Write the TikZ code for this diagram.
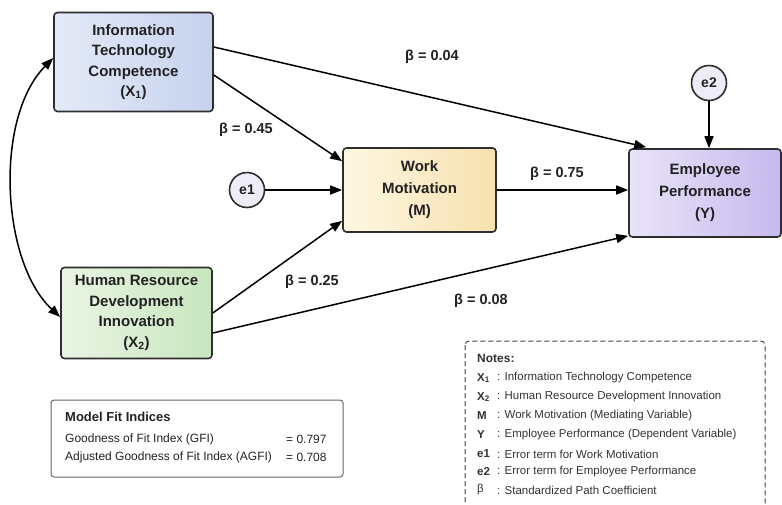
\documentclass[tikz,border=0pt]{standalone}
\usepackage{fontspec}
\setmainfont{Liberation Sans}
\usetikzlibrary{arrows.meta,calc}
\definecolor{ink}{HTML}{222222}
\definecolor{edge}{HTML}{2E2E2E}
\definecolor{xonel}{HTML}{E4EAF7}\definecolor{xoner}{HTML}{C6D2EE}
\definecolor{xtwol}{HTML}{E9F5E4}\definecolor{xtwor}{HTML}{C8E6BD}
\definecolor{ml}{HTML}{FDF7E2}\definecolor{mr}{HTML}{F7E1AE}
\definecolor{yl}{HTML}{E9E4F9}\definecolor{yr}{HTML}{C7B9EE}
\definecolor{errfill}{HTML}{EEECF6}
\definecolor{notetxt}{HTML}{333333}
\begin{document}
\begin{tikzpicture}[x=1pt,y=-1pt,
  varbox/.style={draw=edge,line width=1.6pt,rounded corners=3.5pt,align=center,
     font=\bfseries\fontsize{15}{20.5}\selectfont,text=ink,inner sep=0pt},
  errnode/.style={circle,draw=edge,line width=1.6pt,fill=errfill,minimum size=35pt,
     inner sep=0pt,font=\bfseries\fontsize{14}{16}\selectfont,text=ink},
  path/.style={draw=black,line width=1.5pt,-{Triangle[length=12pt,width=9pt]}},
  coef/.style={font=\bfseries\fontsize{14.5}{16}\selectfont,text=ink},
  notelab/.style={anchor=west,font=\bfseries\fontsize{11.5}{13}\selectfont,text=notetxt,inner sep=0pt},
  notetext/.style={anchor=west,font=\fontsize{11.5}{13}\selectfont,text=notetxt,inner sep=0pt},
  fittext/.style={anchor=west,font=\fontsize{12}{14}\selectfont,text=ink,inner sep=0pt}]
\useasboundingbox (0,0) rectangle (782,504);

% variable boxes
\node[varbox,left color=xonel,right color=xoner,minimum width=159pt,minimum height=99pt]
  (X1) at (133.5,62) {Information\\Technology\\Competence\\(X\textsubscript{1})};
\node[varbox,left color=xtwol,right color=xtwor,minimum width=151pt,minimum height=91pt]
  (X2) at (136.5,313) {Human Resource\\Development\\Innovation\\(X\textsubscript{2})};
\node[varbox,left color=ml,right color=mr,minimum width=153pt,minimum height=84pt,
  font=\bfseries\fontsize{15}{22}\selectfont]
  (M) at (419.5,190) {Work\\Motivation\\(M)};
\node[varbox,left color=yl,right color=yr,minimum width=152pt,minimum height=88pt,
  font=\bfseries\fontsize{15}{22}\selectfont]
  (Y) at (705,193) {Employee\\Performance\\(Y)};

% error terms
\node[errnode] (e1) at (247,190) {e1};
\node[errnode] (e2) at (709,83) {e2};

% paths
\draw[path] ([yshift=15pt]X1.east) -- ([xshift=18pt,yshift=1pt]Y.north west);
\draw[path] ([yshift=-13pt]X1.east) -- ([yshift=-14pt]M.north west);
\draw[path] (e1) -- (e1 -| M.west);
\draw[path] (M.east) -- (M.east -| Y.west);
\draw[path] (X2.east) -- ([yshift=12pt]M.south west);
\draw[path] ([yshift=-20pt]X2.east) -- ([yshift=2pt]Y.south west);
\draw[path] (e2) -- (e2 |- Y.north);

% covariance
\draw[line width=1.5pt,{Triangle[length=12pt,width=9pt]}-{Triangle[length=12pt,width=9pt]}]
  ([yshift=4pt]X1.west) .. controls (-6,118) and (1,262) .. ([yshift=-4pt]X2.west);

% coefficients
\node[coef] (b1) at (432,57) {β = 0.04};
\node[coef] (b2) at (246,130) {β = 0.45};
\node[coef] (b3) at (557,174) {β = 0.75};
\node[coef] (b4) at (312,282) {β = 0.25};
\node[coef] (b5) at (481,301) {β = 0.08};

% model fit box
\draw[draw=black!60,line width=1pt,rounded corners=3pt] (51,400) rectangle (343,477);
\node[fittext,font=\bfseries\fontsize{13}{15}\selectfont] (mf) at (65,417) {Model Fit Indices};
\node[fittext] (g1) at (65,439) {Goodness of Fit Index (GFI)};
\node[fittext] (g2) at (286,439) {= 0.797};
\node[fittext] (a1) at (65,457) {Adjusted Goodness of Fit Index (AGFI)};
\node[fittext] (a2) at (286,457) {= 0.708};

% notes box
\draw[draw=black!75,line width=1pt,dash pattern=on 5pt off 3pt,rounded corners=4pt] (465,341) rectangle (765,520);
\node[notelab,font=\bfseries\fontsize{12}{14}\selectfont] (nt) at (477,358) {Notes:};
\node[notelab] (n1) at (477,378) {X\textsubscript{1}};
\node[notetext] (t1) at (497,378) {: Information Technology Competence};
\node[notelab] (n2) at (477,397) {X\textsubscript{2}};
\node[notetext] (t2) at (497,397) {: Human Resource Development Innovation};
\node[notelab] (n3) at (477,416) {M};
\node[notetext] (t3) at (497,416) {: Work Motivation (Mediating Variable)};
\node[notelab] (n4) at (477,435) {Y};
\node[notetext] (t4) at (497,435) {: Employee Performance (Dependent Variable)};
\node[notelab] (n5) at (477,454) {e1};
\node[notetext] (t5) at (497,454) {: Error term for Work Motivation};
\node[notelab] (n6) at (477,472) {e2};
\node[notetext] (t6) at (497,472) {: Error term for Employee Performance};
\node[notetext] (n7) at (477,490) {β};
\node[notetext] (t7) at (497,490) {: Standardized Path Coefficient};
\end{tikzpicture}
\end{document}
